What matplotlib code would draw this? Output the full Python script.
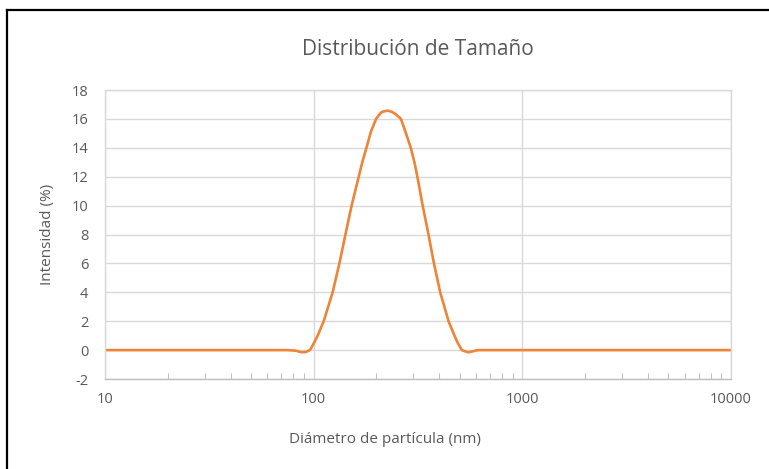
import numpy as np
import matplotlib.pyplot as plt
from matplotlib.lines import Line2D
from matplotlib.ticker import FixedLocator, LogLocator, NullFormatter

# particle size distribution
diametro = [10, 30, 60, 75, 82, 87.5, 92, 96, 100, 104.5, 111.7, 123.3, 132.8,
            142, 152, 164.4, 171, 179, 188, 199, 209, 214, 226, 236, 246, 262,
            277, 292, 304, 314, 333, 355, 377, 404, 443, 473, 490, 513, 535,
            552, 580, 614, 1000, 3000, 10000]
intensidad = [0, 0, 0, 0, -0.04, -0.15, -0.12, 0, 0.45, 1, 2, 4, 6,
              8, 10, 12, 13, 14, 15.1, 16, 16.4, 16.5, 16.57, 16.5, 16.35, 16,
              15, 14, 13, 12, 10, 8, 6, 4, 2, 1, 0.5, 0, -0.1,
              -0.15, -0.08, 0, 0, 0, 0]

y_ticks = [-2, 0, 2, 4, 6, 8, 10, 12, 14, 16, 18]
x_ticks = [10, 100, 1000, 10000]
x_labels = ['10', '100', '1000', '10000']

plt.rcParams['font.family'] = ['Open Sans', 'DejaVu Sans']
plt.rcParams['axes.unicode_minus'] = False
gris = '#595959'
rejilla = '#d9d9d9'

W, H = 769, 469
fig = plt.figure(figsize=(W / 100, H / 100), dpi=100)
ax = fig.add_axes([105 / W, 1 - 379 / H, (731 - 105) / W, (379 - 90) / H])

ax.plot(diametro, intensidad, color='#ee8438', lw=1.9, solid_capstyle='round',
        solid_joinstyle='round')

ax.set_xscale('log')
ax.set_xlim(10, 10000)
ax.set_ylim(-2, 18)
ax.xaxis.set_major_locator(FixedLocator(x_ticks))
ax.set_xticklabels(x_labels)
ax.xaxis.set_minor_locator(LogLocator(base=10, subs=np.arange(2, 10)))
ax.xaxis.set_minor_formatter(NullFormatter())
ax.set_yticks(y_ticks)

ax.grid(True, which='major', color=rejilla, lw=1.0)
ax.set_axisbelow(True)
for s in ax.spines.values():
    s.set_color(rejilla)
    s.set_linewidth(1.0)
ax.spines['bottom'].set_color('#bfbfbf')

ax.tick_params(axis='both', which='major', length=0, labelsize=10.5,
               labelcolor=gris)
ax.tick_params(axis='y', pad=12)
ax.tick_params(axis='x', pad=9)
ax.tick_params(axis='x', which='minor', direction='in', length=4,
               color='#bfbfbf', width=0.8)

ax.set_title('Distribución de Tamaño', fontsize=15, color=gris,
             y=1 + (90 - 48) / (379 - 90) - 0.035, va='center')
ax.set_xlabel('Diámetro de partícula (nm)', fontsize=11, color=gris)
ax.set_ylabel('Intensidad (%)', fontsize=11, color=gris)
ax.xaxis.set_label_coords((385 - 105) / (731 - 105), -(439 - 379) / (379 - 90))
ax.yaxis.set_label_coords(-(105 - 47) / (731 - 105), 0.5)
ax.xaxis.label.set_va('center')
ax.yaxis.label.set_va('center')

# black frame visible on top and left of the image
fig.add_artist(Line2D([6.5 / W, 6.5 / W], [0, 1 - 10 / H], color='black',
                      lw=1.6, transform=fig.transFigure))
fig.add_artist(Line2D([6.5 / W, 1], [1 - 10.5 / H, 1 - 10.5 / H], color='black',
                      lw=1.6, transform=fig.transFigure))

fig.savefig('out.png', dpi=100)
